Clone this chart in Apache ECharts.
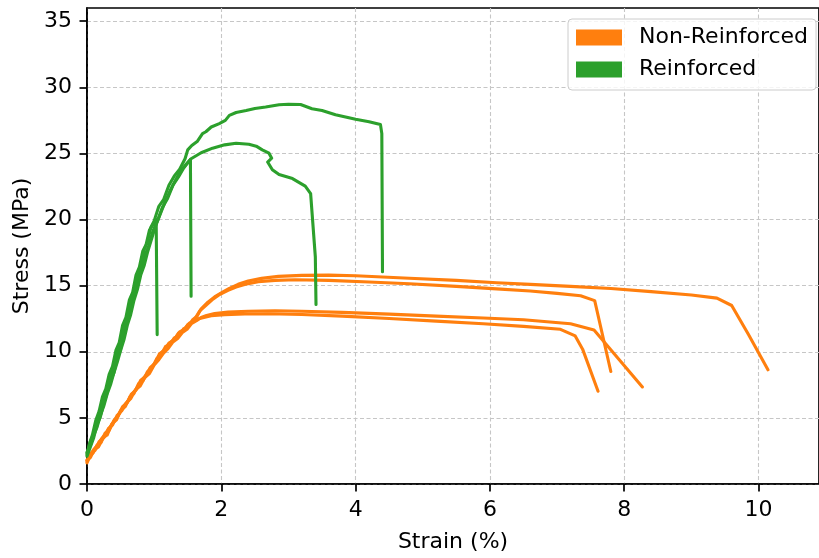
<!DOCTYPE html>
<html>
<head>
<meta charset="utf-8">
<script src="https://cdn.jsdelivr.net/npm/echarts@6/dist/echarts.min.js"></script>
<style>
  html, body { margin: 0; padding: 0; background: #fff; }
  #chart { width: 819px; height: 558px; }
</style>
</head>
<body>
<div id="chart"></div>
<script>
// Tensile test curves: stress (MPa) against strain (%)
const xTicks = [0, 2, 4, 6, 8, 10];
const yTicks = [0, 5, 10, 15, 20, 25, 30, 35];

// Non-reinforced specimens
const nr1Strain = [0, 0.05, 0.11, 0.17, 0.24, 0.3, 0.37, 0.44, 0.5, 0.57, 0.64, 0.7, 0.77, 0.84, 0.9, 0.97, 1.04, 1.1, 1.17, 1.24, 1.3, 1.37, 1.44, 1.5, 1.57, 1.64, 1.7, 1.8, 1.9, 2.0, 2.12, 2.25, 2.4, 2.6, 2.85, 3.2, 3.6, 4.0, 4.8, 5.5, 6.1, 6.6, 7.2, 7.8, 8.4, 9.0, 9.38, 9.6, 9.85, 10.14];
const nr1Stress = [1.8, 2.0, 2.6, 2.8, 3.5, 3.7, 4.55, 4.85, 5.55, 5.85, 6.6, 6.85, 7.6, 7.85, 8.5, 8.8, 9.5, 9.75, 10.4, 10.55, 11.05, 11.2, 11.75, 11.85, 12.4, 12.7, 13.25, 13.75, 14.15, 14.45, 14.8, 15.1, 15.35, 15.55, 15.7, 15.78, 15.8, 15.75, 15.56, 15.4, 15.22, 15.1, 14.95, 14.78, 14.55, 14.3, 14.06, 13.5, 11.3, 8.64];

const nr2Strain = [0, 0.04, 0.09, 0.15, 0.21, 0.27, 0.33, 0.4, 0.46, 0.53, 0.6, 0.66, 0.73, 0.8, 0.87, 0.94, 1.01, 1.08, 1.15, 1.22, 1.29, 1.36, 1.43, 1.5, 1.56, 1.62, 1.68, 1.78, 1.88, 1.98, 2.1, 2.22, 2.36, 2.55, 2.8, 3.1, 3.6, 4.2, 4.8, 5.5, 6.1, 6.6, 7.0, 7.35, 7.56, 7.8];
const nr2Stress = [1.7, 2.15, 2.35, 2.95, 3.15, 3.85, 4.05, 4.8, 5.15, 5.85, 6.15, 6.8, 7.1, 7.85, 8.1, 8.8, 9.1, 9.85, 10.1, 10.65, 10.85, 11.4, 11.55, 12.05, 12.2, 12.6, 13.1, 13.55, 14.0, 14.35, 14.65, 14.9, 15.1, 15.3, 15.4, 15.45, 15.4, 15.28, 15.14, 14.95, 14.76, 14.6, 14.42, 14.24, 13.87, 8.51];

const nr3Strain = [0, 0.06, 0.12, 0.18, 0.25, 0.32, 0.38, 0.45, 0.52, 0.58, 0.65, 0.72, 0.79, 0.86, 0.93, 1.0, 1.07, 1.14, 1.21, 1.28, 1.35, 1.42, 1.49, 1.56, 1.63, 1.7, 1.78, 1.9, 2.1, 2.4, 2.8, 3.2, 3.8, 4.5, 5.2, 5.9, 6.5, 7.2, 7.55, 8.27];
const nr3Stress = [1.6, 2.3, 2.55, 3.2, 3.5, 4.2, 4.45, 5.2, 5.55, 6.1, 6.45, 7.1, 7.4, 8.05, 8.35, 9.0, 9.4, 9.9, 10.25, 10.75, 11.0, 11.45, 11.7, 12.15, 12.35, 12.6, 12.75, 12.9, 13.0, 13.07, 13.1, 13.07, 12.98, 12.85, 12.7, 12.55, 12.42, 12.12, 11.65, 7.34];

const nr4Strain = [0, 0.05, 0.1, 0.16, 0.22, 0.29, 0.35, 0.42, 0.48, 0.55, 0.62, 0.68, 0.75, 0.82, 0.89, 0.96, 1.03, 1.1, 1.17, 1.24, 1.31, 1.38, 1.45, 1.52, 1.59, 1.66, 1.74, 1.85, 2.05, 2.35, 2.7, 3.2, 3.8, 4.5, 5.2, 5.9, 6.5, 7.05, 7.27, 7.38, 7.61];
const nr4Stress = [1.8, 2.25, 2.6, 2.95, 3.45, 3.9, 4.35, 4.85, 5.3, 5.9, 6.35, 6.85, 7.3, 7.9, 8.3, 8.85, 9.25, 9.9, 10.2, 10.7, 11.0, 11.5, 11.7, 12.15, 12.35, 12.5, 12.6, 12.72, 12.8, 12.86, 12.88, 12.82, 12.7, 12.52, 12.32, 12.12, 11.92, 11.7, 11.2, 10.2, 7.02];

// Reinforced specimens
const re1Strain = [0, 0.04, 0.08, 0.13, 0.18, 0.23, 0.28, 0.33, 0.38, 0.43, 0.48, 0.53, 0.58, 0.63, 0.68, 0.73, 0.78, 0.83, 0.88, 0.93, 0.98, 1.03, 1.045];
const re1Stress = [2.3, 3.1, 3.7, 4.8, 5.5, 6.6, 7.2, 8.3, 8.9, 10.1, 10.7, 12.0, 12.6, 13.9, 14.5, 15.8, 16.4, 17.6, 18.1, 19.2, 19.6, 20.0, 11.3];

const re2Strain = [0, 0.05, 0.1, 0.15, 0.2, 0.25, 0.3, 0.35, 0.4, 0.45, 0.5, 0.55, 0.6, 0.65, 0.7, 0.75, 0.8, 0.86, 0.92, 0.98, 1.05, 1.12, 1.2, 1.28, 1.36, 1.44, 1.5, 1.54, 1.55];
const re2Stress = [2.1, 2.8, 3.5, 4.5, 5.1, 6.1, 6.9, 7.8, 8.4, 9.5, 10.2, 11.4, 12.2, 13.4, 14.3, 15.4, 16.2, 17.3, 18.0, 19.1, 19.9, 20.9, 21.6, 22.6, 23.2, 23.9, 24.3, 24.55, 14.2];

const re3Strain = [0, 0.05, 0.1, 0.15, 0.2, 0.25, 0.3, 0.35, 0.4, 0.45, 0.5, 0.55, 0.6, 0.65, 0.7, 0.75, 0.8, 0.85, 0.9, 0.96, 1.02, 1.09, 1.16, 1.24, 1.32, 1.4, 1.48, 1.55, 1.7, 1.87, 2.05, 2.22, 2.41, 2.52, 2.61, 2.71, 2.75, 2.69, 2.76, 2.86, 3.06, 3.25, 3.33, 3.40, 3.41];
const re3Stress = [2.4, 2.9, 3.7, 4.3, 5.2, 5.9, 6.8, 7.5, 8.4, 9.2, 10.1, 10.9, 12.0, 12.8, 13.9, 14.7, 15.8, 16.5, 17.5, 18.5, 19.5, 20.4, 21.3, 22.2, 23.0, 23.7, 24.2, 24.6, 25.05, 25.4, 25.65, 25.77, 25.69, 25.55, 25.27, 25.02, 24.64, 24.35, 23.77, 23.4, 23.1, 22.53, 21.96, 17.18, 13.57];

const re4Strain = [0, 0.05, 0.1, 0.15, 0.2, 0.25, 0.3, 0.35, 0.4, 0.45, 0.5, 0.55, 0.6, 0.65, 0.7, 0.75, 0.8, 0.85, 0.9, 0.95, 1.0, 1.07, 1.14, 1.22, 1.3, 1.38, 1.46, 1.5, 1.56, 1.64, 1.72, 1.77, 1.85, 1.97, 2.06, 2.12, 2.22, 2.37, 2.5, 2.66, 2.86, 3.0, 3.18, 3.35, 3.5, 3.7, 4.0, 4.2, 4.37, 4.39, 4.40];
const re4Stress = [2.2, 3.2, 3.8, 4.8, 5.4, 6.5, 7.1, 8.2, 8.8, 10.0, 10.6, 11.9, 12.5, 13.9, 14.5, 15.9, 16.5, 17.7, 18.3, 19.4, 19.9, 21.0, 21.5, 22.6, 23.3, 23.8, 24.6, 25.27, 25.6, 25.9, 26.5, 26.64, 27.0, 27.26, 27.5, 27.88, 28.1, 28.25, 28.4, 28.51, 28.68, 28.72, 28.7, 28.38, 28.25, 27.93, 27.58, 27.4, 27.18, 26.5, 16.06];

const NR = 'Non-Reinforced';
const RE = 'Reinforced';
const ORANGE = '#ff7f0e';
const GREEN = '#2ca02c';
const FONT = 'DejaVu Sans';

const zip = (xs, ys) => xs.map((x, i) => [x, ys[i]]);

const curves = [
  [NR, nr1Strain, nr1Stress],
  [NR, nr2Strain, nr2Stress],
  [NR, nr3Strain, nr3Stress],
  [NR, nr4Strain, nr4Stress],
  [RE, re1Strain, re1Stress],
  [RE, re2Strain, re2Stress],
  [RE, re3Strain, re3Stress],
  [RE, re4Strain, re4Stress]
];

const series = curves.map(([name, xs, ys]) => ({
  name: name,
  type: 'line',
  data: zip(xs, ys),
  showSymbol: false,
  symbol: 'none',
  smooth: false,
  lineStyle: { width: 3.1, color: name === NR ? ORANGE : GREEN, cap: 'round', join: 'round' },
  itemStyle: { color: name === NR ? ORANGE : GREEN },
  emphasis: { disabled: true },
  z: name === NR ? 2 : 3
}));

const gridLine = { show: true, lineStyle: { color: '#c6c6c6', width: 1.1, type: [4, 2.5] } };
const axisLineStyle = { lineStyle: { color: '#000', width: 1.7 } };

const chart = echarts.init(document.getElementById('chart'), null, { renderer: 'canvas' });
chart.setOption({
  animation: false,
  backgroundColor: '#fff',
  textStyle: { fontFamily: FONT },
  grid: {
    left: 87, top: 8, right: -4, bottom: 67,
    show: true, borderColor: '#000', borderWidth: 1.7, backgroundColor: 'transparent'
  },
  legend: {
    orient: 'vertical',
    left: 568, top: 19,
    padding: [7.5, 8, 9.5, 8],
    itemWidth: 46, itemHeight: 16, itemGap: 10,
    icon: 'rect',
    backgroundColor: 'rgba(255,255,255,0.8)',
    borderColor: '#cccccc', borderWidth: 1, borderRadius: 4,
    textStyle: { fontFamily: FONT, fontSize: 22, color: '#000', padding: [0, 0, 0, 12] },
    data: [
      { name: NR, itemStyle: { color: ORANGE } },
      { name: RE, itemStyle: { color: GREEN } }
    ],
    selectedMode: false
  },
  xAxis: {
    type: 'value',
    min: 0, max: 10.9, interval: 2,
    name: 'Strain (%)', nameLocation: 'middle', nameGap: 47,
    nameTextStyle: { fontFamily: FONT, fontSize: 22, color: '#000' },
    axisLine: axisLineStyle,
    axisTick: { show: true, inside: false, length: 7.5, lineStyle: { color: '#000', width: 1.7 }, customValues: xTicks },
    axisLabel: { fontFamily: FONT, fontSize: 22, color: '#000', margin: 15, customValues: xTicks },
    splitLine: gridLine
  },
  yAxis: {
    type: 'value',
    min: 0, max: 36, interval: 5,
    name: 'Stress (MPa)', nameLocation: 'middle', nameGap: 52, nameRotate: 90,
    nameTextStyle: { fontFamily: FONT, fontSize: 22, color: '#000' },
    axisLine: axisLineStyle,
    axisTick: { show: true, inside: false, length: 7.5, lineStyle: { color: '#000', width: 1.7 }, customValues: yTicks },
    axisLabel: { fontFamily: FONT, fontSize: 22, color: '#000', margin: 15, customValues: yTicks },
    splitLine: gridLine
  },
  series: series
});
</script>
</body>
</html>
